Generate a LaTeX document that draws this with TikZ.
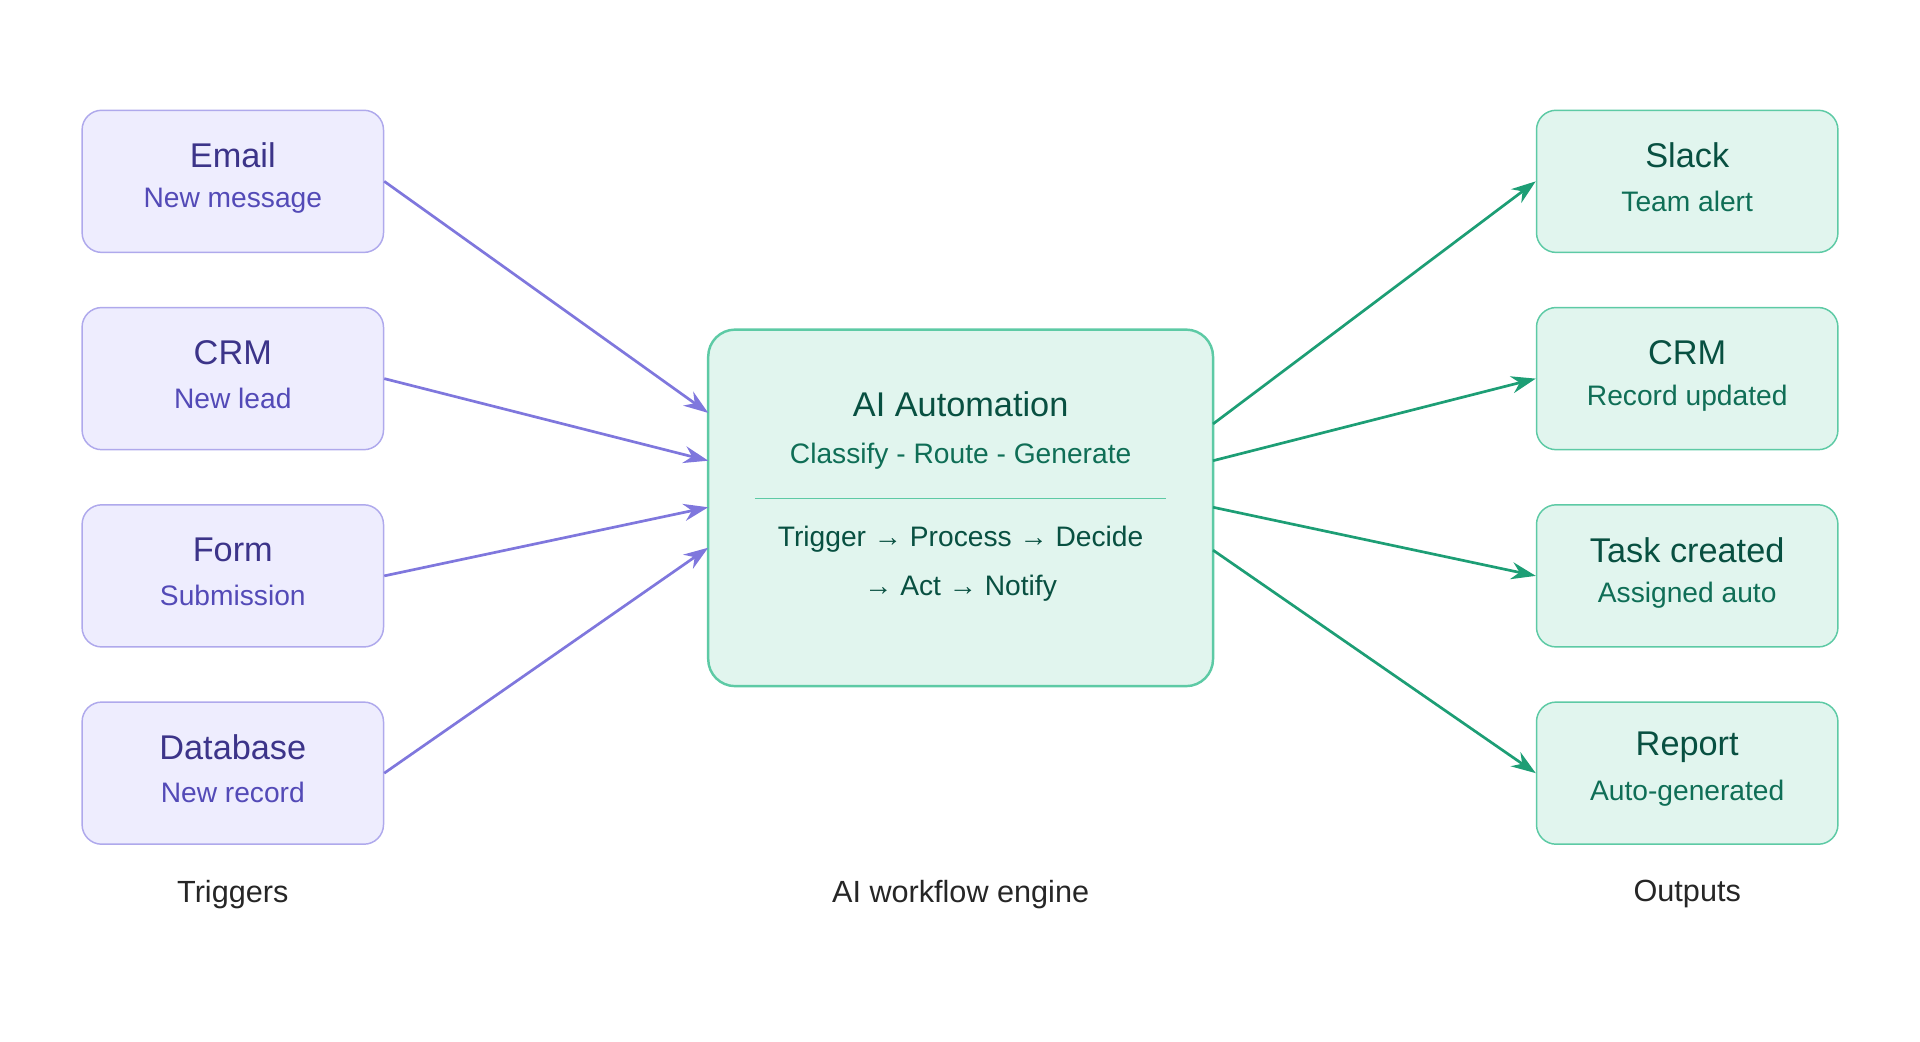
\documentclass[tikz,border=0pt]{standalone}
\usepackage{fontspec}
\setmainfont{Liberation Sans}
\usetikzlibrary{arrows.meta}
\definecolor{trgFill}{HTML}{EEEDFE}
\definecolor{trgDraw}{HTML}{AFA9EC}
\definecolor{trgHead}{HTML}{3C3489}
\definecolor{trgSub}{HTML}{534AB7}
\definecolor{trgLine}{HTML}{7F77DD}
\definecolor{outFill}{HTML}{E1F5EE}
\definecolor{outDraw}{HTML}{5DCAA5}
\definecolor{outHead}{HTML}{085041}
\definecolor{outSub}{HTML}{0F6E56}
\definecolor{outLine}{HTML}{1D9E75}
\begin{document}
\begin{tikzpicture}[x=0.5pt,y=-0.5pt]
% Styles for trigger and output boxes
\tikzstyle{Trigger}=[rectangle,rounded corners=8pt,draw=trgDraw,fill=trgFill,line width=0.6pt,minimum width=123pt,minimum height=58pt]
\tikzstyle{Output}=[rectangle,rounded corners=8pt,draw=outDraw,fill=outFill,line width=0.6pt,minimum width=123pt,minimum height=58pt]
\tikzstyle{Head}=[font=\fontsize{14}{16}\selectfont]
\tikzstyle{Sub}=[font=\fontsize{11.5}{14}\selectfont]
\tikzstyle{Caption}=[font=\fontsize{12.5}{15}\selectfont,text=black!85]
\useasboundingbox (0,0) rectangle (1567,850);
% Engine
\node[draw=outDraw,fill=outFill,line width=1pt,rounded corners=11pt,minimum width=206pt,minimum height=145.5pt] (engine) at (784,414.5) {};
\node[Head,text=outHead] (engTitle) at (784,330) {AI Automation};
\node[Sub,text=outSub] (engSub) at (784,372) {Classify - Route - Generate};
\draw[outDraw,line width=0.6pt] (616,407) -- (952,407);
\node[Sub,text=outHead] (engFlow1) at (784,440) {Trigger → Process → Decide};
\node[Sub,text=outHead] (engFlow2) at (784,480) {→ Act → Notify};
% Triggers
\foreach [count=\i] \y/\h/\s/\e in {148/Email/New message/337, 309/CRM/New lead/376,
    470/Form/Submission/414, 631/Database/New record/447} {
  \node[Trigger] (in\i) at (190,\y) {};
  \node[Head,text=trgHead] at (190,\y-21) {\h};
  \node[Sub,text=trgSub] at (190,\y+16) {\s};
  \coordinate (inEnd\i) at (578,\e);
  \draw[trgLine,line width=1.1pt,-{Stealth[length=10pt,width=7pt]}] (in\i.east) -- (inEnd\i);
}
% Outputs
\foreach [count=\i] \y/\h/\s/\e in {148/Slack/Team alert/346, 309/CRM/Record updated/376,
    470/Task created/Assigned auto/414, 631/Report/Auto-generated/449} {
  \node[Output] (out\i) at (1377,\y) {};
  \node[Head,text=outHead] at (1377,\y-21) {\h};
  \node[Sub,text=outSub] at (1377,\y+16) {\s};
  \coordinate (outStart\i) at (990,\e);
  \draw[outLine,line width=1.1pt,-{Stealth[length=10pt,width=7pt]}] (outStart\i) -- (out\i.west);
}
% Column captions
\node[Caption] (capIn) at (190,730) {Triggers};
\node[Caption] (capEng) at (784,730) {AI workflow engine};
\node[Caption] (capOut) at (1377,730) {Outputs};
\end{tikzpicture}
\end{document}
